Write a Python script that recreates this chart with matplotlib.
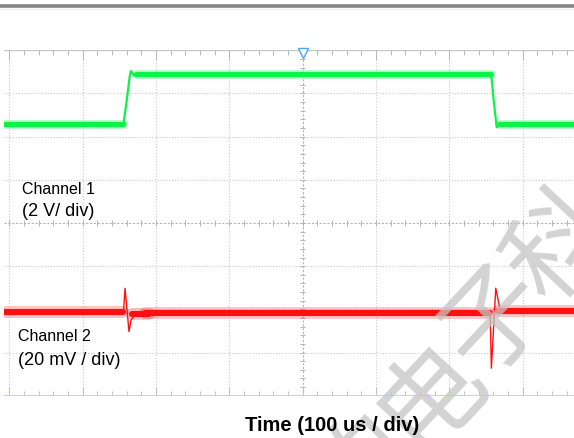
import numpy as np
import matplotlib.pyplot as plt
from matplotlib.lines import Line2D

# scope screen in divisions: x = time (div, 0 = trigger), y = vertical (div, 0 = centre)
x_left, x_right = -4.075, 3.70
y_bottom, y_top = -4.0, 4.0
grid_x = [-4, -3, -2, -1, 1, 2, 3]
grid_y = [-3, -2, -1, 1, 2, 3]

# Channel 1 (green) key points
ch1_t = [-4.1, -2.445, -2.40, -2.36, -2.343, -2.30, -2.26, -2.20, 2.57, 2.61, 2.646, 2.67, 2.72, 3.8]
ch1_v = [2.29, 2.29, 2.85, 3.40, 3.52, 3.42, 3.40, 3.45, 3.45, 2.75, 2.22, 2.27, 2.29, 2.29]
# flat parts, drawn as the noise band: (start, end, level)
ch1_flat = [(-4.1, -2.45, 2.29), (-2.28, 2.565, 3.45), (2.68, 3.8, 2.29)]

# Channel 2 (red) key points
ch2_t = [-4.1, -2.445, -2.424, -2.37, -2.343, -2.30, -2.20, -1.95, 2.556, 2.573, 2.633, 2.692, 2.96, 3.8]
ch2_v = [-2.067, -2.067, -1.511, -2.516, -2.25, -2.15, -2.11, -2.067, -2.067, -3.363, -1.511, -2.01, -2.03, -2.067]
ch2_flat = [(-4.1, -2.445, -2.067), (-2.33, -2.10, -2.11), (-2.15, 2.556, -2.075), (2.67, 3.8, -2.035)]

green = '#0df24a'
red = '#ff1010'

fig = plt.figure(figsize=(5.74, 4.39), dpi=100)
W, H = 574.0, 439.0
ax = fig.add_axes([4 / W, (H - 396.7) / H, 570 / W, (396.7 - 51.3) / H])
ax.set_xlim(x_left, x_right)
ax.set_ylim(y_bottom, y_top)
ax.axis('off')

# top grey bar
fig.add_artist(Line2D([0, 1], [1 - 7.3 / H, 1 - 7.3 / H], transform=fig.transFigure,
                      color='#858585', lw=2.6))
fig.add_artist(Line2D([0, 1], [1 - 10.0 / H, 1 - 10.0 / H], transform=fig.transFigure,
                      color='#ececec', lw=0.8))

# grid
dot = (0, (1, 1.6))
for gx in grid_x:
    ax.plot([gx, gx], [y_bottom, y_top], color='#cacaca', lw=0.8, ls=dot, zorder=1)
for gy in grid_y:
    ax.plot([x_left, x_right], [gy, gy], color='#cacaca', lw=0.8, ls=dot, zorder=1)

# centre axes with minor ticks
ax.plot([0, 0], [y_bottom, y_top], color='#b4b4b4', lw=0.8, ls=(0, (2, 1.5)), zorder=1)
ax.plot([x_left, x_right], [0, 0], color='#b4b4b4', lw=0.8, ls=(0, (2, 1.5)), zorder=1)
minor_x = np.arange(-4.0, 3.8, 0.2)
minor_y = np.arange(-3.8, 4.0, 0.2)
ax.vlines(minor_x, -0.06, 0.06, color='#b4b4b4', lw=0.7, zorder=1)
ax.hlines(minor_y, -0.035, 0.035, color='#b4b4b4', lw=0.7, zorder=1)

# top border with ticks
ax.plot([x_left, x_right], [y_top, y_top], color='#c8c8c8', lw=1.0, zorder=2)
ax.vlines(minor_x, y_top - 0.1, y_top, color='#b8b8b8', lw=0.7, zorder=2)
ax.vlines(np.arange(-4, 4, 1), y_top - 0.23, y_top, color='#b8b8b8', lw=0.7, zorder=2)

# bottom border (yellow) with ticks
ax.vlines(minor_x, y_bottom, y_bottom + 0.1, color='#c0c0c0', lw=0.7, zorder=2)
ax.vlines(np.arange(-4, 4, 1), y_bottom, y_bottom + 0.2, color='#c0c0c0', lw=0.7, zorder=2)
ax.plot([x_left, x_right], [y_bottom, y_bottom], color='#f2e600', lw=1.4, zorder=3)

# trigger marker
ax.plot([0], [3.93], marker='v', ms=6.5, mfc='white', mec='#4da3ff', mew=1.0,
        zorder=6, clip_on=False)

# traces
for (t0, t1, lvl) in ch1_flat:
    ax.hlines(lvl, t0, t1, color=green, lw=6.2, alpha=0.35, zorder=4, capstyle='round')
    ax.hlines(lvl, t0, t1, color=green, lw=3.6, zorder=4, capstyle='round')
ax.plot(ch1_t, ch1_v, color=green, lw=1.6, zorder=4)

for (t0, t1, lvl) in ch2_flat:
    ax.hlines(lvl, t0, t1, color=red, lw=8.5, alpha=0.25, zorder=4, capstyle='round')
    ax.hlines(lvl, t0, t1, color=red, lw=4.4, zorder=4, capstyle='round')
ax.plot(ch2_t, ch2_v, color=red, lw=1.0, zorder=4)

# labels
font = ['Liberation Sans', 'DejaVu Sans']
ax.text(-3.83, 0.81, 'Channel 1', fontsize=11.5, family=font, ha='left', va='center', zorder=5)
ax.text(-3.83, 0.30, '(2 V/ div)', fontsize=13, family=font, ha='left', va='center', zorder=5)
ax.text(-3.885, -2.61, 'Channel 2', fontsize=11.5, family=font, ha='left', va='center', zorder=5)
ax.text(-3.885, -3.15, '(20 mV / div)', fontsize=13, family=font, ha='left', va='center', zorder=5)

fig.text(331.7 / W, 1 - 431.5 / H, 'Time (100 us / div)', fontsize=14.5, family=font,
         fontweight='bold', ha='center', va='baseline', zorder=12)

# watermark
wm_chars = ['的', '电', '子', '科']
wm_pos = [(362, 468), (430, 394), (497, 320), (562, 247)]
for ch, (px, py) in zip(wm_chars, wm_pos):
    fig.text(px / W, 1 - py / H, ch, fontsize=76, fontweight='medium',
             family=['Noto Sans CJK SC', 'DejaVu Sans'],
             color='#c4c4c4', alpha=0.75, rotation=47, ha='center', va='center',
             rotation_mode='anchor', zorder=10)

fig.savefig('out.png', dpi=100)
